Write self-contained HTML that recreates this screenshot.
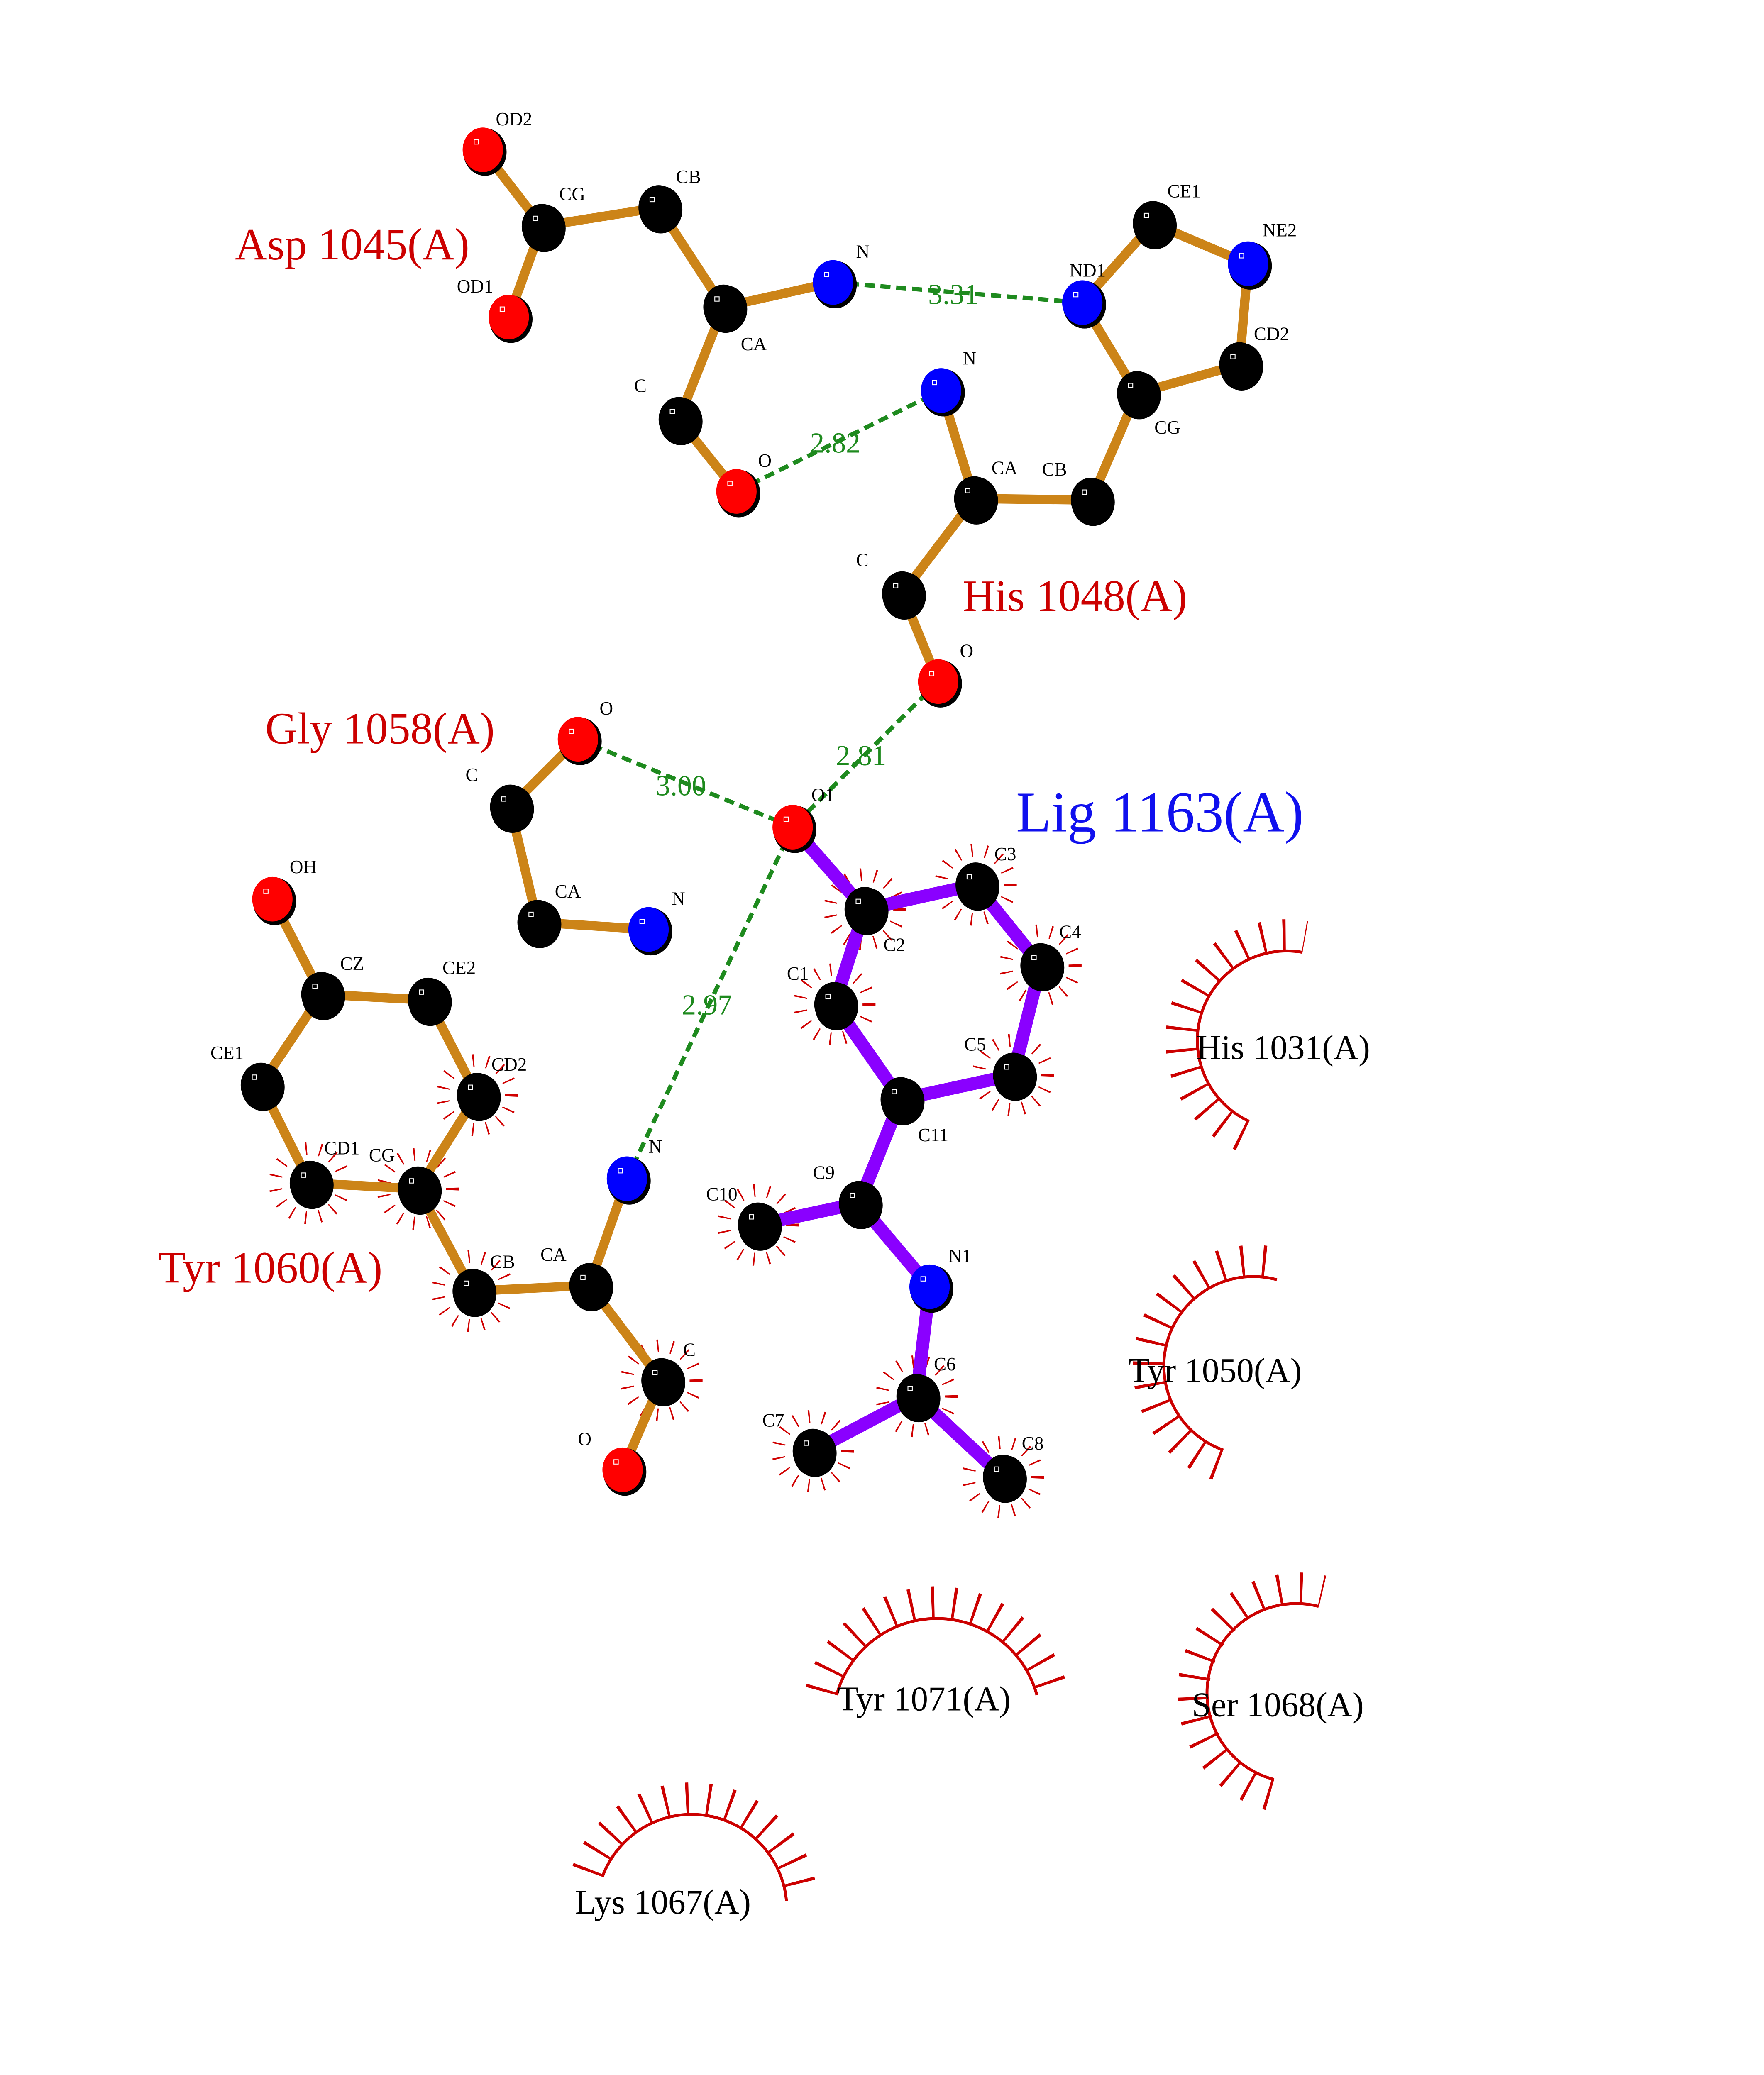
<!DOCTYPE html>
<html><head><meta charset="utf-8"><style>html,body{margin:0;padding:0;background:#fff;width:4250px;height:5500px;overflow:hidden}svg{display:block;position:absolute;left:0;top:0}</style></head>
<body>
<svg xmlns="http://www.w3.org/2000/svg" xmlns:xlink="http://www.w3.org/1999/xlink" width="4250" height="5500" viewBox="0 0 1224 1584" font-family="Liberation Serif, serif">
<defs>
<g id="k"><ellipse cx="1.5" cy="1.5" rx="15" ry="16.5" fill="#000"/><ellipse rx="14" ry="15.5" fill="#000"/><rect x="-6" y="-7" width="3" height="3" fill="none" stroke="#fff" stroke-width="0.6"/></g>
<g id="r"><ellipse cx="1.5" cy="1.5" rx="15" ry="16.5" fill="#000"/><ellipse rx="14" ry="15.5" fill="#ff0000"/><rect x="-6" y="-7" width="3" height="3" fill="none" stroke="#fff" stroke-width="0.6"/></g>
<g id="b"><ellipse cx="1.5" cy="1.5" rx="15" ry="16.5" fill="#000"/><ellipse rx="14" ry="15.5" fill="#0000ff"/><rect x="-6" y="-7" width="3" height="3" fill="none" stroke="#fff" stroke-width="0.6"/></g>
<circle id="t" r="24" fill="none" stroke="#d00000" stroke-width="9" stroke-dasharray="1 9"/>
</defs>
<rect width="1224" height="1584" fill="#fff"/>
<g stroke="#1e8a1e" stroke-width="3" stroke-dasharray="7,4" fill="none">
<line x1="578" y1="196" x2="751" y2="210"/><line x1="511" y1="341" x2="653" y2="271"/><line x1="651" y1="473" x2="550" y2="574"/><line x1="401" y1="513" x2="550" y2="574"/><line x1="550" y1="574" x2="435" y2="818"/>
</g>
<g>
<use xlink:href="#t" x="600" y="631"/><use xlink:href="#t" x="579" y="697"/><use xlink:href="#t" x="703" y="746"/><use xlink:href="#t" x="526" y="850"/><use xlink:href="#t" x="564" y="1007"/><use xlink:href="#t" x="696" y="1025"/><use xlink:href="#t" x="636" y="969"/><use xlink:href="#t" x="677" y="614"/><use xlink:href="#t" x="722" y="670"/>
<use xlink:href="#t" x="331" y="760"/><use xlink:href="#t" x="215" y="821"/><use xlink:href="#t" x="290" y="825"/><use xlink:href="#t" x="328" y="896"/><use xlink:href="#t" x="459" y="958"/>
</g>
<g stroke="#cc8418" stroke-width="6.5" fill="none" stroke-linecap="round" stroke-linejoin="round">
<polyline points="335,104 376,157 353,220"/><polyline points="376,157 457,144 502,213 578,196"/><polyline points="502,213 471,291 511,341"/>
<polyline points="653,271 676,346 626,412 651,473"/><polyline points="676,346 757,347 789,273 751,210 800,155 866,183 860,253 789,273"/>
<polyline points="401,513 354,560 373,640 450,645"/>
<polyline points="189,624 223,690 297,694 331,760 290,825 215,821 181,753 223,690"/><polyline points="290,825 328,896 409,892 435,818"/><polyline points="409,892 459,958 432,1020"/>
</g>
<g stroke="#8a00ff" stroke-width="9" fill="none" stroke-linecap="round" stroke-linejoin="round">
<polyline points="550,574 600,631 677,614 722,670 703,746 625,763 579,697 600,631"/><polyline points="625,763 596,835 526,850"/><polyline points="596,835 645,893 636,969 564,1007"/><polyline points="636,969 696,1025"/>
</g>
<g>
<use xlink:href="#r" x="335" y="104"/><use xlink:href="#k" x="376" y="157"/><use xlink:href="#r" x="353" y="220"/><use xlink:href="#k" x="457" y="144"/><use xlink:href="#k" x="502" y="213"/><use xlink:href="#b" x="578" y="196"/><use xlink:href="#k" x="471" y="291"/><use xlink:href="#r" x="511" y="341"/>
<use xlink:href="#b" x="751" y="210"/><use xlink:href="#k" x="800" y="155"/><use xlink:href="#b" x="866" y="183"/><use xlink:href="#k" x="860" y="253"/><use xlink:href="#k" x="789" y="273"/><use xlink:href="#k" x="757" y="347"/><use xlink:href="#k" x="676" y="346"/><use xlink:href="#b" x="653" y="271"/><use xlink:href="#k" x="626" y="412"/><use xlink:href="#r" x="651" y="473"/>
<use xlink:href="#r" x="401" y="513"/><use xlink:href="#k" x="354" y="560"/><use xlink:href="#k" x="373" y="640"/><use xlink:href="#b" x="450" y="645"/>
<use xlink:href="#r" x="550" y="574"/><use xlink:href="#k" x="600" y="631"/><use xlink:href="#k" x="677" y="614"/><use xlink:href="#k" x="722" y="670"/><use xlink:href="#k" x="703" y="746"/><use xlink:href="#k" x="625" y="763"/><use xlink:href="#k" x="579" y="697"/><use xlink:href="#k" x="596" y="835"/><use xlink:href="#k" x="526" y="850"/><use xlink:href="#b" x="645" y="893"/><use xlink:href="#k" x="636" y="969"/><use xlink:href="#k" x="564" y="1007"/><use xlink:href="#k" x="696" y="1025"/>
<use xlink:href="#r" x="189" y="624"/><use xlink:href="#k" x="223" y="690"/><use xlink:href="#k" x="297" y="694"/><use xlink:href="#k" x="181" y="753"/><use xlink:href="#k" x="331" y="760"/><use xlink:href="#k" x="215" y="821"/><use xlink:href="#k" x="290" y="825"/><use xlink:href="#k" x="328" y="896"/><use xlink:href="#k" x="409" y="892"/><use xlink:href="#b" x="435" y="818"/><use xlink:href="#k" x="459" y="958"/><use xlink:href="#r" x="432" y="1020"/>
</g>
<g stroke="#cc0000" fill="none">
<path d="M866.8 778.2 A62 62 0 0 1 903.8 660.9" stroke-width="2"/><path d="M862.1 788.2 A73 73 0 0 1 905.7 650.1" stroke-width="22" stroke-dasharray="2 13"/>
<path d="M848.8 1006.3 A62 62 0 0 1 886.0 888.1" stroke-width="2"/><path d="M845.0 1016.6 A73 73 0 0 1 888.9 877.5" stroke-width="22" stroke-dasharray="2 13"/>
<path d="M580.5 1176.4 A72 72 0 0 1 719.5 1176.4" stroke-width="2"/><path d="M569.8 1173.5 A83 83 0 0 1 730.2 1173.5" stroke-width="22" stroke-dasharray="2 13"/>
<path d="M884.0 1234.9 A62 62 0 0 1 915.0 1114.8" stroke-width="2"/><path d="M881.1 1245.5 A73 73 0 0 1 917.7 1104.2" stroke-width="22" stroke-dasharray="2 13"/>
<path d="M418.0 1302.4 A66 66 0 0 1 545.7 1319.2" stroke-width="2"/><path d="M407.6 1298.7 A77 77 0 0 1 556.7 1318.3" stroke-width="22" stroke-dasharray="2 13"/>
</g>
<g font-size="13" fill="#000">
<text x="344" y="87">OD2</text><text x="388" y="139">CG</text><text x="317" y="203">OD1</text>
<text x="469" y="127">CB</text><text x="514" y="243">CA</text><text x="594" y="179">N</text>
<text x="440" y="272">C</text><text x="526" y="324">O</text>
<text x="742" y="192">ND1</text><text x="810" y="137">CE1</text><text x="876" y="164">NE2</text>
<text x="870" y="236">CD2</text><text x="801" y="301">CG</text><text x="723" y="330">CB</text>
<text x="688" y="329">CA</text><text x="668" y="253">N</text><text x="594" y="393">C</text><text x="666" y="456">O</text>
<text x="416" y="496">O</text><text x="323" y="542">C</text><text x="385" y="623">CA</text><text x="466" y="628">N</text>
<text x="563" y="556">O1</text><text x="613" y="660">C2</text><text x="690" y="597">C3</text><text x="735" y="651">C4</text>
<text x="669" y="729">C5</text><text x="637" y="792">C11</text><text x="546" y="680">C1</text><text x="564" y="818">C9</text>
<text x="490" y="833">C10</text><text x="658" y="876">N1</text><text x="648" y="951">C6</text><text x="529" y="990">C7</text><text x="709" y="1006">C8</text>
<text x="201" y="606">OH</text><text x="236" y="673">CZ</text><text x="307" y="676">CE2</text><text x="146" y="735">CE1</text>
<text x="341" y="743">CD2</text><text x="225" y="801">CD1</text><text x="256" y="806">CG</text><text x="340" y="880">CB</text>
<text x="375" y="875">CA</text><text x="450" y="800">N</text><text x="474" y="941">C</text><text x="401" y="1003">O</text>
</g>
<g font-size="20" fill="#1e8a1e"><text x="644" y="211">3.31</text><text x="562" y="314">2.82</text><text x="580" y="531">2.81</text><text x="455" y="552">3.00</text><text x="473" y="704">2.97</text></g>
<g font-size="31" fill="#cc0000"><text x="163" y="180">Asp 1045(A)</text><text x="668" y="424">His 1048(A)</text><text x="184" y="516">Gly 1058(A)</text><text x="110" y="890">Tyr 1060(A)</text></g>
<text x="705" y="577" font-size="40" fill="#1010ee">Lig 1163(A)</text>
<g font-size="24" fill="#000"><text x="830" y="735">His 1031(A)</text><text x="783" y="959">Tyr 1050(A)</text><text x="581" y="1187">Tyr 1071(A)</text><text x="827" y="1191">Ser 1068(A)</text><text x="399" y="1328">Lys 1067(A)</text></g>
<text x="58" y="1470" font-size="14">.</text>
</svg>
</body></html>
